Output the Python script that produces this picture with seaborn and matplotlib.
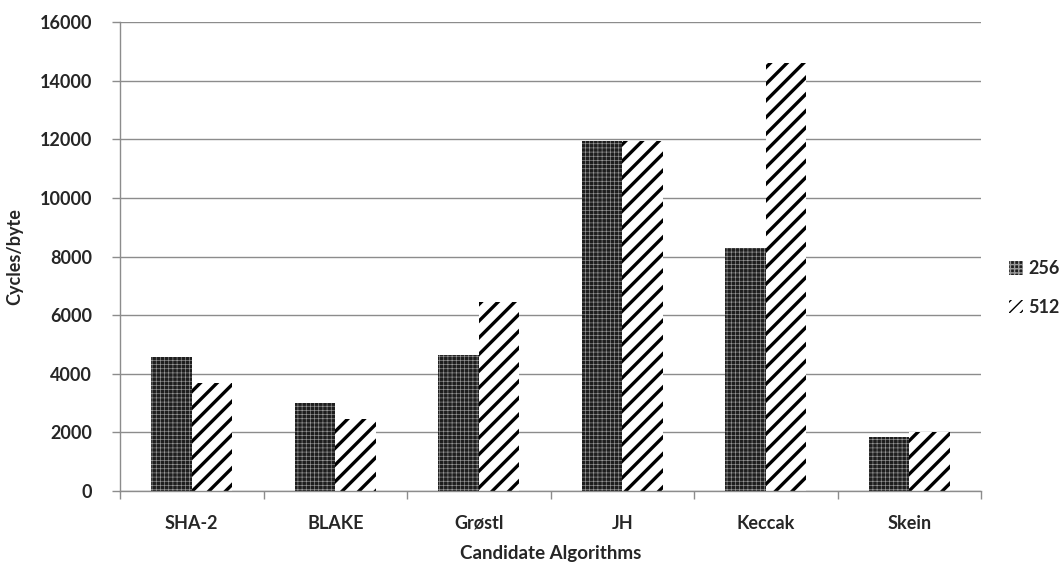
import matplotlib
matplotlib.use("Agg")
import matplotlib.pyplot as plt
from matplotlib.patches import Patch
import numpy as np
import pandas as pd
import seaborn as sns

algorithms = ["SHA-2", "BLAKE", "Grøstl", "JH", "Keccak", "Skein"]
cycles_256 = [4560, 3000, 4640, 11950, 8280, 1850]
cycles_512 = [3700, 2450, 6450, 11950, 14600, 2020]
series = ["256", "512"]
y_ticks = [0, 2000, 4000, 6000, 8000, 10000, 12000, 14000, 16000]

df = pd.DataFrame({
    "Algorithm": algorithms * 2,
    "Digest": [series[0]] * len(algorithms) + [series[1]] * len(algorithms),
    "Cycles": cycles_256 + cycles_512,
})

sns.set_theme(style="white")
plt.rcParams["font.family"] = ["Lato", "DejaVu Sans"]
plt.rcParams["font.weight"] = "bold"

FS = 13

fig = plt.figure(figsize=(10.64, 5.65), dpi=100)
ax = fig.add_axes([0.1128, 0.131, 0.8092, 0.830])

sns.barplot(data=df, x="Algorithm", y="Cycles", hue="Digest", order=algorithms,
            hue_order=series, width=0.565, gap=0, ax=ax, legend=False,
            linewidth=0, saturation=1, palette=["#262626", "white"])

styles = {
    "256": dict(facecolor="#1e1e1e", edgecolor="#9a9a9a", hatch="++++", hlw=0.45),
    "512": dict(facecolor="white", edgecolor="black", hatch="//", hlw=2.4),
}
for name, cont in zip(series, ax.containers):
    st = styles[name]
    for bar in cont:
        with plt.rc_context({"hatch.linewidth": st["hlw"]}):
            bar.set_facecolor(st["facecolor"])
            bar.set_edgecolor(st["edgecolor"])
            bar.set_hatch(st["hatch"])
            bar.set_linewidth(0)
        if hasattr(bar, "set_hatch_linewidth"):
            bar.set_hatch_linewidth(st["hlw"])

ax.set_ylim(0, 16000)
ax.set_xlim(-0.5, len(algorithms) - 0.5)
ax.set_yticks(y_ticks)
ax.set_yticklabels([str(t) for t in y_ticks], fontsize=FS, fontweight="bold")
ax.set_xticks(range(len(algorithms)))
ax.set_xticklabels(algorithms, fontsize=FS, fontweight="bold")
ax.set_xticks(np.arange(-0.5, len(algorithms)), minor=True)
ax.tick_params(axis="x", which="major", length=0, pad=17)
ax.tick_params(axis="x", which="minor", length=6, color="#8c8c8c", width=1, direction="out", bottom=True)
ax.tick_params(axis="y", length=6, color="#8c8c8c", width=1, direction="out", left=True, pad=14)

ax.yaxis.grid(True, color="#8c8c8c", linewidth=1)
ax.set_axisbelow(True)
for side in ["top", "right"]:
    ax.spines[side].set_visible(False)
for side in ["left", "bottom"]:
    ax.spines[side].set_color("#8c8c8c")
    ax.spines[side].set_linewidth(1)

ax.set_xlabel("Candidate Algorithms", fontsize=FS + 0.5, fontweight="bold", labelpad=10)
ax.set_ylabel("Cycles/byte", fontsize=FS, fontweight="bold", labelpad=12)

handles = []
for name in series:
    st = styles[name]
    with plt.rc_context({"hatch.linewidth": min(st["hlw"], 1.6)}):
        h = Patch(facecolor=st["facecolor"], edgecolor=st["edgecolor"],
                  hatch=st["hatch"] + ("/" if name == "512" else ""),
                  linewidth=0, label=name)
    handles.append(h)
leg = fig.legend(handles=handles, loc="center left", bbox_to_anchor=(0.933, 0.49),
                 frameon=False, fontsize=FS, handlelength=0.75, handleheight=0.75,
                 handletextpad=0.3, labelspacing=1.2)
for t in leg.get_texts():
    t.set_fontweight("bold")

fig.savefig("out.png", dpi=100, facecolor="white")
